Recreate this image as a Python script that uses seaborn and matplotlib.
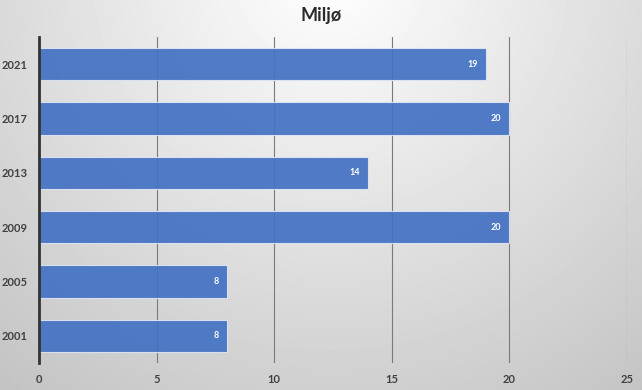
import numpy as np
import pandas as pd
import matplotlib
matplotlib.use("Agg")
import matplotlib.pyplot as plt
import seaborn as sns

# Values for the "Miljø" chart
years = ["2021", "2017", "2013", "2009", "2005", "2001"]
values = [19, 20, 14, 20, 8, 8]
x_ticks = [0, 5, 10, 15, 20, 25]

df = pd.DataFrame({"year": years, "value": values})

sns.set_theme(style="white")
plt.rcParams["font.family"] = ["Lato", "DejaVu Sans"]

W, H = 642, 390
fig = plt.figure(figsize=(W / 100, H / 100), dpi=100)

# Radial grey gradient background, brightest at the top centre
bg = fig.add_axes([0, 0, 1, 1], zorder=-10)
yy, xx = np.mgrid[0:H, 0:W]
dist = np.sqrt((xx - 330) ** 2 + (yy + 30) ** 2)
shade = np.clip(255 - dist * 0.113, 0, 255) / 255.0
bg.imshow(shade, cmap="gray", vmin=0, vmax=1, aspect="auto",
          extent=[0, 1, 0, 1], origin="upper")
bg.set_axis_off()

ax = fig.add_axes([39 / W, 1 - 363 / H, (627 - 39) / W, (363 - 37) / H])
ax.set_facecolor("none")

sns.barplot(data=df, x="value", y="year", order=years, orient="h",
            color="#4472C4", saturation=1, width=0.59, alpha=0.93,
            edgecolor="#dfe6f3", linewidth=0.8, ax=ax, zorder=3)

for bar, v in zip(ax.patches, values):
    y = bar.get_y() + bar.get_height() / 2
    ax.text(v - 0.35, y, f"{v}", ha="right", va="center", color="white",
            fontsize=6.5, fontweight="bold", zorder=5)

ax.set_xlim(0, 25)
ax.set_ylim(5.5, -0.5)
ax.set_xticks(x_ticks)
ax.set_xticklabels([str(t) for t in x_ticks])
ax.xaxis.grid(True, color="#7a7a7a", linewidth=0.8, zorder=1)
ax.yaxis.grid(False)
ax.set_axisbelow(True)
ax.set_xlabel("")
ax.set_ylabel("")

for side in ["top", "right", "bottom"]:
    ax.spines[side].set_visible(False)
ax.spines["left"].set_color("#333333")
ax.spines["left"].set_linewidth(2)
ax.spines["left"].set_zorder(6)

ax.tick_params(axis="both", length=0, labelsize=8, labelcolor="#404040")
ax.tick_params(axis="x", pad=8)
ax.tick_params(axis="y", pad=8)
for lbl in ax.get_xticklabels() + ax.get_yticklabels():
    lbl.set_fontweight("bold")

fig.text(0.5, 1 - 15 / H, "Miljø", ha="center", va="center",
         fontsize=13, fontweight="bold", color="#2b2b2b")

fig.savefig("out.png", dpi=100)
